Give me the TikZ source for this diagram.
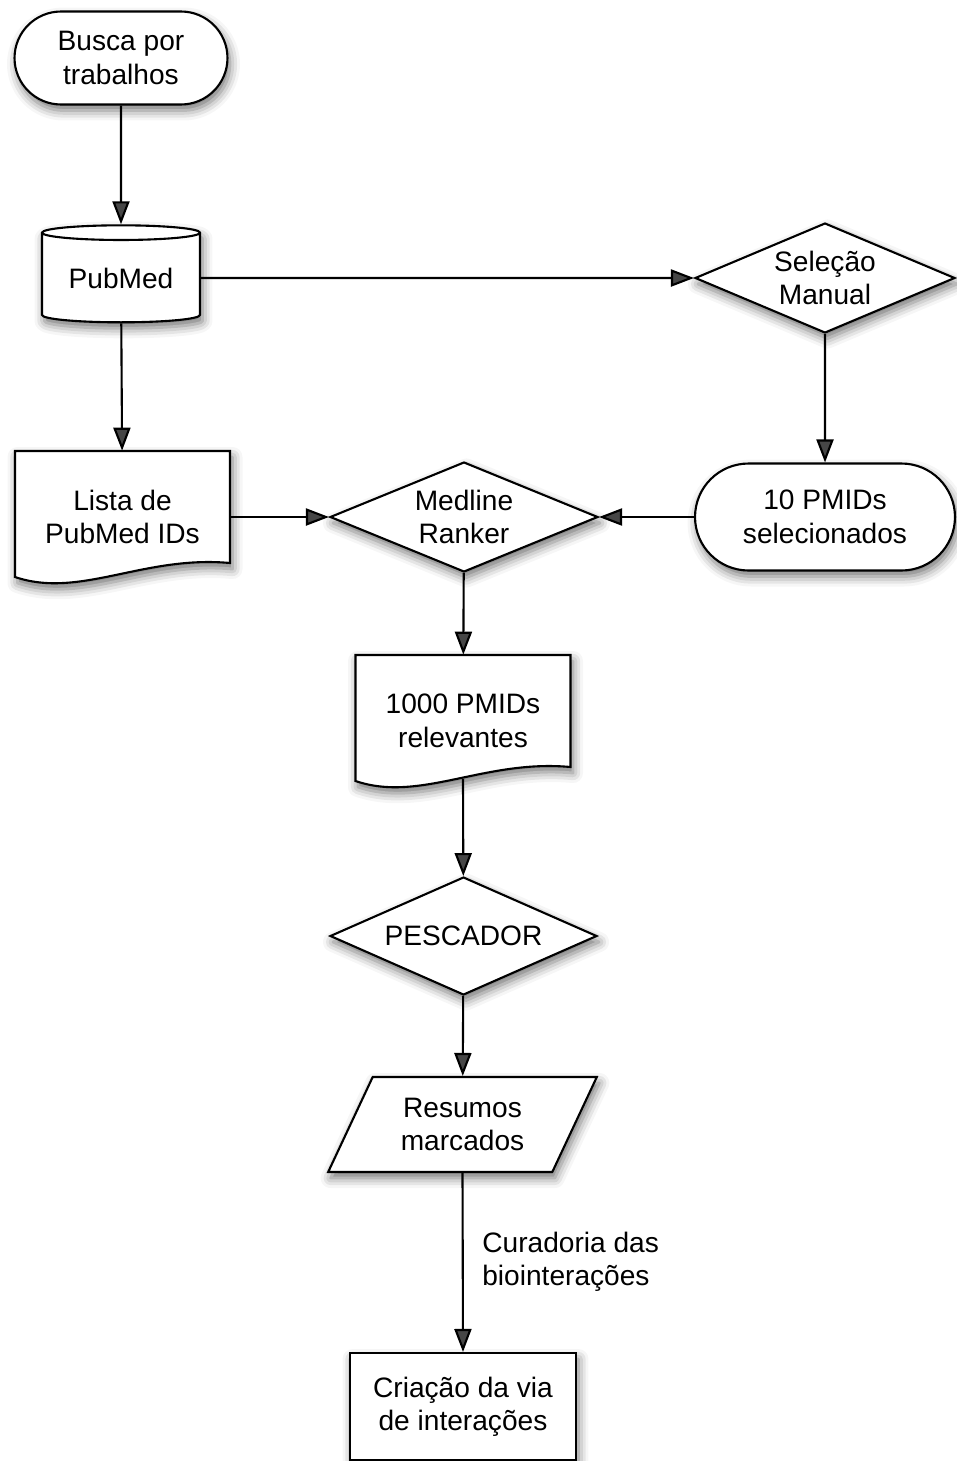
\documentclass[tikz,border=0pt]{standalone}
\usepackage{fontspec}
\setmainfont{Liberation Sans}
\usetikzlibrary{shapes.geometric,shapes.misc,arrows.meta,shadows.blur,calc}

% folha com base ondulada, em volta de uma coordenada
\newcommand\folha[1]{%
  \draw[caixa] ($(#1)+(-107.5,-66)$) -- ($(#1)+(107.5,-66)$) -- ($(#1)+(107.5,46)$)
    .. controls ($(#1)+(21.5,38)$) and ($(#1)+(-43,82)$) .. ($(#1)+(-107.5,60)$) -- cycle;}

\begin{document}
\begin{tikzpicture}[x=.02cm, y=-.02cm,
    caixa/.style={draw, fill=white, line width=1.2pt,
      blur shadow={shadow xshift=.05cm, shadow yshift=-.12cm, shadow blur radius=.2cm, shadow opacity=55}},
    txt/.style={align=center, inner sep=0pt, font=\fontsize{16}{19}\selectfont},
    folhatxt/.style={txt, minimum width=4.3cm, minimum height=2.64cm},
    losango/.style={caixa, txt, diamond, aspect=2.4, minimum width=#1, minimum height=2.2cm},
    seta/.style={line width=1.2pt, -{Triangle[length=.46cm, width=.34cm]}}]
  \useasboundingbox (0,0) rectangle (957,1461);

  %% coluna da esquerda
  \node[caixa, txt, rounded rectangle, minimum width=4.26cm, minimum height=1.86cm] (busca) at (121,58) {Busca por\\trabalhos};
  \node[caixa, txt, cylinder, shape border rotate=90, aspect=.14, minimum width=3.16cm, minimum height=1.94cm] (pubmed) at (121,278) {PubMed};
  \coordinate (plista) at (122.5,517);
  \folha{plista}
  \node[folhatxt] (lista) at (plista) {Lista de\\PubMed IDs};

  %% coluna da direita
  \node[losango=5.2cm] (selecao) at (825,278) {Seleção\\Manual};
  \node[caixa, txt, rounded rectangle, minimum width=5.2cm, minimum height=2.14cm] (pmids10) at (825,517) {10 PMIDs\\selecionados};

  %% centro
  \node[losango=5.36cm] (medline) at (464,517) {Medline\\Ranker};
  \coordinate (p1000) at (463,721);
  \folha{p1000}
  \node[folhatxt] (pmids1000) at (p1000) {1000 PMIDs\\relevantes};
  \coordinate (p1000b) at ($(p1000)+(0,58)$);
  \node[caixa, txt, diamond, aspect=2.26, minimum width=5.34cm, minimum height=2.36cm] (pescador) at (463.5,936) {PESCADOR};
  \node[caixa, txt, trapezium, trapezium left angle=60, trapezium right angle=120, trapezium stretches=true, minimum width=5.38cm, minimum height=1.9cm] (resumos) at (462.5,1124.5) {Resumos\\marcados};
  \node[caixa, txt, rectangle, minimum width=4.52cm, minimum height=2.14cm] (criacao) at (463,1406.5) {Criação da via\\de interações};
  \node[txt, align=left, anchor=west] (curadoria) at (482,1262) {Curadoria das\\biointerações};

  %% setas
  \draw[seta] (busca) -- (pubmed);
  \draw[seta] (pubmed) -- (lista);
  \draw[seta] (pubmed) -- (selecao);
  \draw[seta] (selecao) -- (pmids10);
  \draw[seta] (lista) -- (medline);
  \draw[seta] (pmids10) -- (medline);
  \draw[seta] (medline) -- (pmids1000);
  \draw[seta] (p1000b) -- (pescador);
  \draw[seta] (pescador) -- (resumos);
  \draw[seta] (resumos.south) -- (criacao.north);
\end{tikzpicture}
\end{document}
